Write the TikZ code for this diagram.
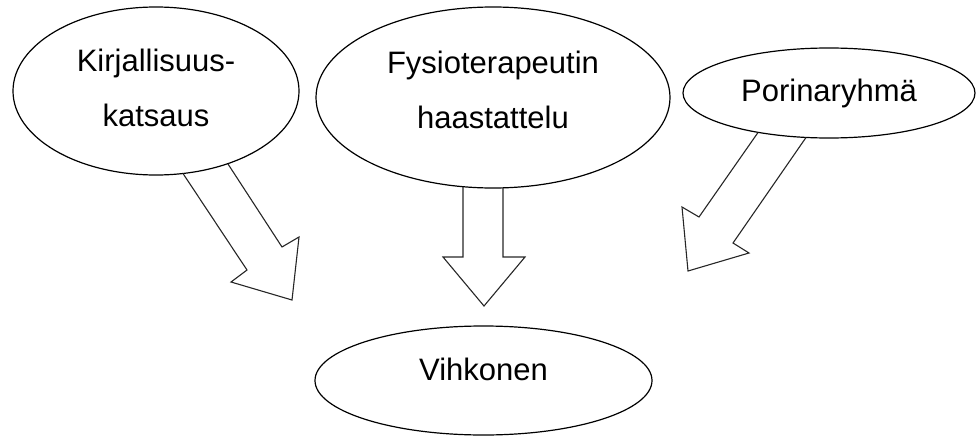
\documentclass[tikz,border=0pt]{standalone}
\usepackage{fontspec}
\setmainfont{Liberation Sans}
\usetikzlibrary{shapes.geometric}
\tikzstyle{sketch} = [x = 1pt, y = -1pt]
\tikzstyle{bubbleStyle} = [draw, ellipse, line width = 1.2pt, inner sep = 0pt, align = center, font = \fontsize{31}{55}\selectfont]
\tikzstyle{blockArrow} = [draw, line width = 1.1pt, color = black!85, line join = miter]
\begin{document}
\begin{tikzpicture}[sketch]
  \useasboundingbox (0,0) rectangle (977,436);
  % sources
  \node [bubbleStyle, minimum width = 286pt, minimum height = 168pt, text depth = 6pt] (kirjallisuus) at (156,91) {Kirjallisuus-\\katsaus};
  \node [bubbleStyle, minimum width = 354pt, minimum height = 181pt, text depth = 16pt] (haastattelu) at (493,97.5) {Fysioterapeutin\\haastattelu};
  \node [bubbleStyle, minimum width = 292pt, minimum height = 90pt] (porinaryhma) at (829,93) {Porinaryhmä};
  % result
  \node [bubbleStyle, minimum width = 337pt, minimum height = 109pt, text depth = 23pt] (vihkonen) at (483.5,380.5) {Vihkonen};

  % arrows
  \draw [blockArrow] (228,164) -- (282,247) -- (299,237) -- (292,300) -- (231,282) -- (247,270) -- (183,173.5);
  \draw [blockArrow] (503,188) -- (503,257) -- (525,257) -- (484,306) -- (443,257) -- (463,257) -- (463,187);
  \draw [blockArrow] (806,137.5) -- (733,243) -- (749,253) -- (688,271) -- (682,207) -- (699,217) -- (758,132.5);
\end{tikzpicture}
\end{document}
